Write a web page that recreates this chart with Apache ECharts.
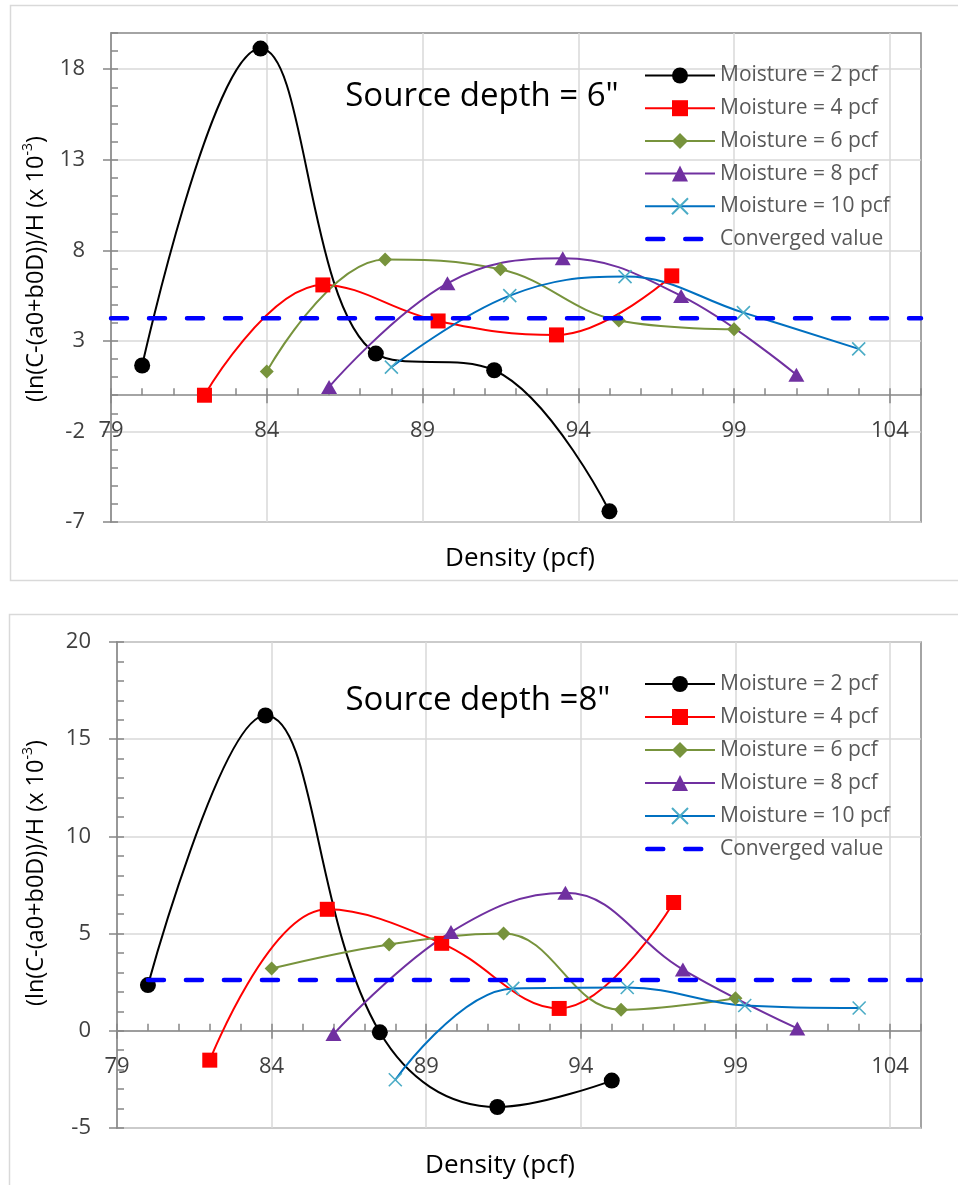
<!DOCTYPE html>
<html>
<head>
<meta charset="utf-8">
<style>
  html, body { margin: 0; padding: 0; background: #ffffff; }
  #chart { width: 958px; height: 1185px; }
</style>
<script src="https://cdn.jsdelivr.net/npm/echarts@6.0.0/dist/echarts.min.js"></script>
</head>
<body>
<div id="chart"></div>
<script>
// ---- Axis ranges and tick labels ----
const xRange = [79, 105];
const xTickLabels = [79, 84, 89, 94, 99, 104];
const yRange6 = [-7, 20];
const yTickLabels6 = [-7, -2, 3, 8, 13, 18];
const yRange8 = [-5, 20];
const yTickLabels8 = [-5, 0, 5, 10, 15, 20];

// ---- Series names ----
const seriesNames = ['Moisture = 2 pcf', 'Moisture = 4 pcf', 'Moisture = 6 pcf',
  'Moisture = 8 pcf', 'Moisture = 10 pcf', 'Converged value'];

// ---- Source depth = 6" : [density (pcf), value] ----
const depth6Moist2 = [[80.0, 1.64], [83.8, 19.14], [87.5, 2.30], [91.3, 1.38], [95.0, -6.41]];
const depth6Moist4 = [[82.0, 0.0], [85.8, 6.09], [89.5, 4.10], [93.3, 3.33], [97.0, 6.59]];
const depth6Moist6 = [[84.0, 1.31], [87.8, 7.50], [91.5, 6.95], [95.3, 4.12], [99.0, 3.64]];
const depth6Moist8 = [[86.0, 0.46], [89.8, 6.18], [93.5, 7.56], [97.3, 5.48], [101.0, 1.13]];
const depth6Moist10 = [[88.0, 1.55], [91.8, 5.50], [95.5, 6.55], [99.3, 4.56], [103.0, 2.56]];
const depth6Converged = 4.25;
const depth6ConvergedFrom = 79;

// ---- Source depth = 8" : [density (pcf), value] ----
const depth8Moist2 = [[80.0, 2.35], [83.8, 16.22], [87.5, -0.08], [91.3, -3.92], [95.0, -2.56]];
const depth8Moist4 = [[82.0, -1.51], [85.8, 6.25], [89.5, 4.50], [93.3, 1.15], [97.0, 6.60]];
const depth8Moist6 = [[84.0, 3.20], [87.8, 4.44], [91.5, 5.00], [95.3, 1.08], [99.0, 1.68]];
const depth8Moist8 = [[86.0, -0.17], [89.8, 5.08], [93.5, 7.10], [97.3, 3.15], [101.0, 0.12]];
const depth8Moist10 = [[88.0, -2.52], [91.8, 2.18], [95.5, 2.23], [99.3, 1.30], [103.0, 1.17]];
const depth8Converged = 2.61;
const depth8ConvergedFrom = 80.0;

// ---- Styling ----
const FONT = '"Open Sans", "Noto Sans", sans-serif';
const AXIS_COLOR = '#878787';
const GRID_COLOR = '#d9d9d9';
const LABEL_COLOR = '#404040';
const LEGEND_COLOR = '#595959';
const CONVERGED_COLOR = '#0000ff';
const CONVERGED_LINE = { color: CONVERGED_COLOR, width: 4.5, type: [16, 22], cap: 'round' };
// Legend key for the converged line: two rounded dashes across a 70px key.
const CONVERGED_KEY = 'path://M2.25,0h16a2.25,2.25 0 0 1 0,4.5h-16a2.25,2.25 0 0 1 0,-4.5z' +
  'M40.25,0h16a2.25,2.25 0 0 1 0,4.5h-16a2.25,2.25 0 0 1 0,-4.5zM70,2.25L70,2.25';

const markerStyles = [
  { line: '#000000', fill: '#000000', symbol: 'circle', size: 16 },
  { line: '#ff0000', fill: '#ff0000', symbol: 'rect', size: 15 },
  { line: '#77933c', fill: '#77933c', symbol: 'diamond', size: 14 },
  { line: '#7030a0', fill: '#7030a0', symbol: 'triangle', size: [16, 14] },
  { line: '#0070c0', fill: '#4bacc6', symbol: 'path://M0,0L10,10M10,0L0,10', size: 13, cross: true }
];

// Horizontal axes sit on the value-0 line; their offset is set after the
// first layout, once the vertical scale is known.
function majorX(gridIndex) {
  return {
    type: 'value', gridIndex: gridIndex, position: 'bottom',
    min: xRange[0], max: xRange[1], interval: 5,
    axisLine: { show: true, onZero: false, lineStyle: { color: AXIS_COLOR, width: 1.5 } },
    axisTick: { show: true, inside: false, length: 8, customValues: xTickLabels,
      lineStyle: { color: AXIS_COLOR, width: 1.5 } },
    axisLabel: { show: true, margin: 24, customValues: xTickLabels,
      fontSize: 22, lineHeight: 24, fontFamily: FONT, color: LABEL_COLOR },
    splitLine: { show: true, lineStyle: { color: GRID_COLOR, width: 1.5 } }
  };
}
function minorX(gridIndex) {
  return {
    type: 'value', gridIndex: gridIndex, position: 'bottom',
    min: xRange[0], max: xRange[1], interval: 1,
    axisLine: { show: false, onZero: false },
    axisTick: { show: true, inside: true, length: 7,
      lineStyle: { color: AXIS_COLOR, width: 1.5 } },
    axisLabel: { show: false },
    splitLine: { show: false }
  };
}
function majorY(gridIndex, range, labels) {
  return {
    type: 'value', gridIndex: gridIndex, position: 'left',
    min: range[0], max: range[1], interval: 5,
    axisLine: { show: true, onZero: false, lineStyle: { color: AXIS_COLOR, width: 1.5 } },
    axisTick: { show: true, inside: false, length: 8, customValues: labels,
      lineStyle: { color: AXIS_COLOR, width: 1.5 } },
    axisLabel: { show: true, margin: 26, customValues: labels,
      fontSize: 22, fontFamily: FONT, color: LABEL_COLOR },
    splitLine: { show: true, lineStyle: { color: GRID_COLOR, width: 1.5 } }
  };
}
function minorY(gridIndex, range) {
  return {
    type: 'value', gridIndex: gridIndex, position: 'left',
    min: range[0], max: range[1], interval: 1,
    axisLine: { show: false, onZero: false },
    axisTick: { show: true, inside: true, length: 7,
      lineStyle: { color: AXIS_COLOR, width: 1.5 } },
    axisLabel: { show: false },
    splitLine: { show: false }
  };
}

function moistureSeries(name, data, st, xIdx, yIdx) {
  return {
    type: 'line', name: name, data: data,
    xAxisIndex: xIdx, yAxisIndex: yIdx,
    smooth: 0.4,
    symbol: st.symbol, symbolSize: st.size,
    lineStyle: { color: st.line, width: 2 },
    itemStyle: st.cross
      ? { color: st.fill, borderColor: st.fill, borderWidth: 1.6 }
      : { color: st.fill, borderWidth: 0 },
    z: 3
  };
}
function convergedSeries(from, value, xIdx, yIdx) {
  return {
    type: 'line', name: seriesNames[5],
    data: [[from, value], [xRange[1], value]],
    xAxisIndex: xIdx, yAxisIndex: yIdx,
    symbol: 'none',
    lineStyle: CONVERGED_LINE,
    itemStyle: { color: CONVERGED_COLOR },
    z: 4
  };
}

const groups6 = [depth6Moist2, depth6Moist4, depth6Moist6, depth6Moist8, depth6Moist10];
const groups8 = [depth8Moist2, depth8Moist4, depth8Moist6, depth8Moist8, depth8Moist10];

const series = [];
groups6.forEach((d, i) => series.push(moistureSeries(seriesNames[i], d, markerStyles[i], 0, 0)));
series.push(convergedSeries(depth6ConvergedFrom, depth6Converged, 0, 0));
groups8.forEach((d, i) => series.push(moistureSeries(seriesNames[i], d, markerStyles[i], 2, 2)));
series.push(convergedSeries(depth8ConvergedFrom, depth8Converged, 2, 2));

function legendAt(top, gap) {
  const data = seriesNames.map((n, i) => i === 5
    ? { name: n, icon: CONVERGED_KEY,
        itemStyle: { color: CONVERGED_COLOR, borderWidth: 0 } }
    : { name: n });
  return {
    orient: 'vertical', left: 639, top: top, padding: 5,
    itemWidth: 70, itemHeight: 20, itemGap: gap,
    symbolKeepAspect: true,
    selectedMode: false,
    textStyle: { fontSize: 21, lineHeight: 20, fontFamily: FONT, color: LEGEND_COLOR },
    data: data
  };
}

const yTitleRich = {
  m: { fontSize: 23.5, fontFamily: FONT, fill: '#000', color: '#000', lineHeight: 30, verticalAlign: 'middle' },
  s: { fontSize: 14, fontFamily: FONT, fill: '#000', color: '#000', lineHeight: 14, verticalAlign: 'top' }
};
function yTitle(cx, cy) {
  return {
    type: 'text', x: cx, y: cy, rotation: Math.PI / 2, z: 10,
    style: {
      text: '{m|(ln(C-(a0+b0D))/H (x 10}{s|-3}{m|)}',
      rich: yTitleRich,
      align: 'center', verticalAlign: 'middle',
      textAlign: 'center', textVerticalAlign: 'middle'
    }
  };
}
function plainText(text, cx, cy, size) {
  return {
    type: 'text', x: cx, y: cy, z: 10,
    style: {
      text: text, fontSize: size, fontFamily: FONT, fill: '#000',
      align: 'center', verticalAlign: 'middle',
      textAlign: 'center', textVerticalAlign: 'middle'
    }
  };
}

const option = {
  animation: false,
  backgroundColor: '#ffffff',
  grid: [
    { left: 111, top: 33, width: 810, height: 489, show: true,
      borderColor: AXIS_COLOR, borderWidth: 1.5, containLabel: false },
    { left: 117, top: 642, width: 804, height: 486, show: true,
      borderColor: AXIS_COLOR, borderWidth: 1.5, containLabel: false }
  ],
  xAxis: [majorX(0), minorX(0), majorX(1), minorX(1)],
  yAxis: [majorY(0, yRange6, yTickLabels6), minorY(0, yRange6),
          majorY(1, yRange8, yTickLabels8), minorY(1, yRange8)],
  legend: [legendAt(60, 11.7), legendAt(668.5, 12)],
  graphic: [
    { type: 'rect', shape: { x: 10.5, y: 5.5, width: 960, height: 575 },
      style: { fill: 'none', stroke: GRID_COLOR, lineWidth: 1.5 }, z: -1 },
    { type: 'rect', shape: { x: 9.5, y: 614.5, width: 960, height: 600 },
      style: { fill: 'none', stroke: GRID_COLOR, lineWidth: 1.5 }, z: -1 },
    plainText('Source depth = 6"', 482, 97, 33),
    plainText('Source depth =8"', 478, 701, 33),
    plainText('Density (pcf)', 520, 559, 26),
    plainText('Density (pcf)', 500, 1166, 26),
    yTitle(36, 269),
    yTitle(36, 873)
  ],
  series: series
};

const chart = echarts.init(document.getElementById('chart'), null, { renderer: 'canvas' });
chart.setOption(option);

// Lift each horizontal axis from the plot bottom up to the value-0 line.
function zeroOffset(yIdx, range) {
  const zero = chart.convertToPixel({ yAxisIndex: yIdx }, 0);
  const base = chart.convertToPixel({ yAxisIndex: yIdx }, range[0]);
  return zero - base;
}
const off6 = zeroOffset(0, yRange6);
const off8 = zeroOffset(2, yRange8);
chart.setOption({
  xAxis: [{ offset: off6 }, { offset: off6 }, { offset: off8 }, { offset: off8 }]
});
</script>
</body>
</html>
